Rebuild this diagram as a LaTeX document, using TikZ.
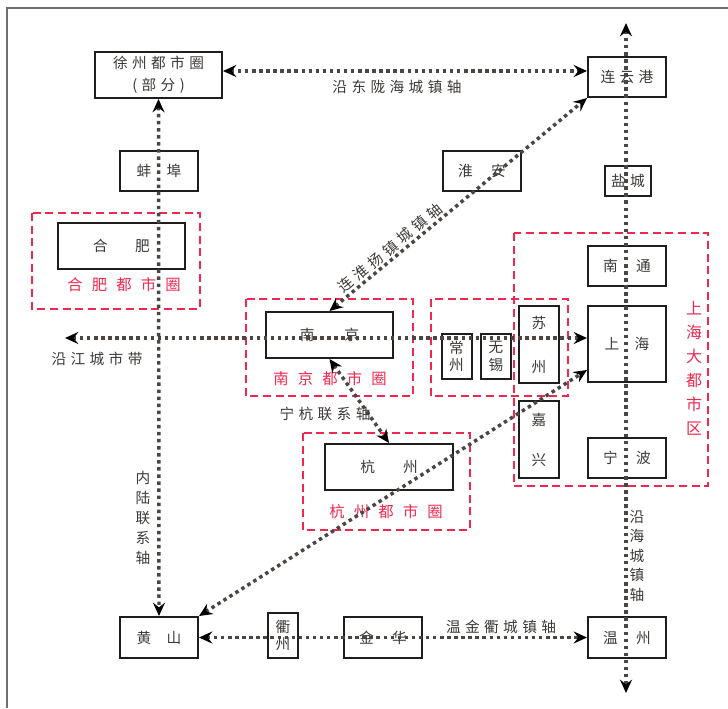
\documentclass[tikz,border=0pt]{standalone}
\usepackage{fontspec}
\setmainfont{Noto Sans CJK SC}
\newfontfamily\axisfont[LetterSpace=30]{Noto Sans CJK SC}
\newfontfamily\circlefont[LetterSpace=60]{Noto Sans CJK SC}
\usetikzlibrary{arrows.meta}
\definecolor{mapink}{HTML}{3C3A38}
\definecolor{mapline}{HTML}{1E1E1E}
\definecolor{mapdots}{HTML}{4A4643}
\definecolor{mapred}{HTML}{F0284F}
\definecolor{mapframe}{HTML}{6E6E6E}

\begin{document}
\begin{tikzpicture}[x=0.75pt, y=-0.75pt,
                    >={Stealth[length=10pt, width=9pt, inset=3.5pt, color=black]},
                    every node/.style={mapink, font=\fontsize{11}{13}\selectfont},
                    city/.style={draw=mapline, line width=1.5pt, inner sep=0pt, align=center},
                    small/.style={city, minimum width=58.5pt, minimum height=30pt},
                    large/.style={city, minimum width=95.25pt, minimum height=34.5pt},
                    narrow/.style={city, minimum width=22.5pt, minimum height=33.75pt},
                    tall/.style={city, minimum width=30pt, minimum height=57.75pt},
                    region/.style={draw=mapred, line width=1.5pt, dash pattern=on 6pt off 3.5pt},
                    regionlabel/.style={mapred, font=\circlefont\fontsize{11.5}{13}\selectfont},
                    axis/.style={<->, draw=mapdots, line width=2.6pt, dash pattern=on 2.6pt off 2.7pt},
                    axislabel/.style={font=\axisfont\fontsize{11}{13}\selectfont}]

  \useasboundingbox (0,0) rectangle (728,708);

  %% 外框 (只有上边与左边)
  \draw[mapframe, line width=1.2pt] (7,708) -- (7,8) -- (728,8);

  %% 都市圈范围
  \draw[region] (32,213) rectangle (200,309);
  \draw[region] (246,299) rectangle (413,396);
  \draw[region] (431,299) rectangle (568,396);
  \draw[region] (303,433) rectangle (470,530);
  \draw[region] (514,233) rectangle (708,486);

  \node[regionlabel] (hefeiquan) at (124,285) {合肥都市圈};
  \node[regionlabel] (nanjingquan) at (330,379) {南京都市圈};
  \node[regionlabel] (hangzhouquan) at (386,512) {杭州都市圈};
  \node[mapred, align=center, font=\fontsize{12}{18}\selectfont] (shanghaiqu) at (694,368)
       {上\\海\\大\\都\\市\\区};

  %% 城市
  \node[large, font=\axisfont\fontsize{11}{16.5}\selectfont] (xuzhou) at (158.5,75)
       {徐州都市圈\\(部分)};
  \node[small] (bengbu) at (159,171) {蚌\hspace{11.5pt}埠};
  \node[large] (hefei) at (121.5,245.5) {合\hspace{20.5pt}肥};
  \node[small] (huaian) at (482,171) {淮\hspace{13.75pt}安};
  \node[small, font=\axisfont\fontsize{11}{13}\selectfont] (lyg) at (627,77) {连云港};
  \node[city, minimum width=34.5pt, minimum height=22.5pt,
        font=\axisfont\fontsize{11}{13}\selectfont] (yancheng) at (628,181) {盐城};
  \node[small] (nantong) at (627,266) {南\hspace{13.75pt}通};
  \node[city, minimum width=58.5pt, minimum height=57pt] (shanghai) at (627,344)
       {上\hspace{11.5pt}海};
  \node[small] (ningbo) at (627,458) {宁\hspace{13.75pt}波};
  \node[large] (nanjing) at (329.5,335) {南\hspace{22.5pt}京};
  \node[narrow] (changzhou) at (456.5,356.5) {常\\州};
  \node[narrow] (wuxi) at (496,356.5) {无\\锡};
  \node[tall] (suzhou) at (539,344.5) {苏\\[20pt]州};
  \node[tall] (jiaxing) at (539,439.5) {嘉\\[17pt]兴};
  \node[large, minimum width=96pt] (hangzhou) at (389,467) {杭\hspace{21pt}州};
  \node[small, minimum height=30.75pt] (huangshan) at (159,637.5) {黄\hspace{11.5pt}山};
  \node[narrow] (quzhou) at (283,635.5) {衢\\州};
  \node[small, minimum height=30.75pt] (jinhua) at (383,637.5) {金\hspace{13.75pt}华};
  \node[small, minimum height=30.75pt] (wenzhou) at (627,637.5) {温\hspace{13.75pt}州};

  %% 轴线的端点
  \coordinate (northend) at (626,23);
  \coordinate (southend) at (626,693);
  \coordinate (westend) at (65,338);
  \coordinate (topline) at (0,71);
  \coordinate (shtip) at (0,370);

  %% 城镇轴
  \draw[axis] (northend) -- (southend);
  \draw[axis] (xuzhou.south) -- (huangshan.north);
  \draw[axis] (xuzhou.east |- topline) -- (lyg.west |- topline);
  \draw[axis] (westend) -- (shanghai.west |- westend);
  \draw[axis] (huangshan.east) -- (wenzhou.west);
  \draw[axis] (nanjing.north) -- node[axislabel, sloped, above, inner sep=1pt, pos=0.26] (lhyz)
       {连淮扬镇城镇轴} (lyg.south west);
  \draw[axis] (nanjing.south) -- (hangzhou.north);
  \draw[axis] (huangshan.north east) -- (shanghai.west |- shtip);

  %% 轴线名称
  \node[axislabel] (ldlh) at (397,87) {沿东陇海城镇轴};
  \node[axislabel] (yjcs) at (97,359) {沿江城市带};
  \node[axislabel] (nhlx) at (325,414) {宁杭联系轴};
  \node[axislabel] (wjq) at (501,627) {温金衢城镇轴};
  \node[align=center, font=\fontsize{11}{15}\selectfont] (nllx) at (143,518) {内\\陆\\联\\系\\轴};
  \node[align=center, font=\fontsize{11}{14.6}\selectfont] (yhcz) at (637,556) {沿\\海\\城\\镇\\轴};

\end{tikzpicture}
\end{document}
